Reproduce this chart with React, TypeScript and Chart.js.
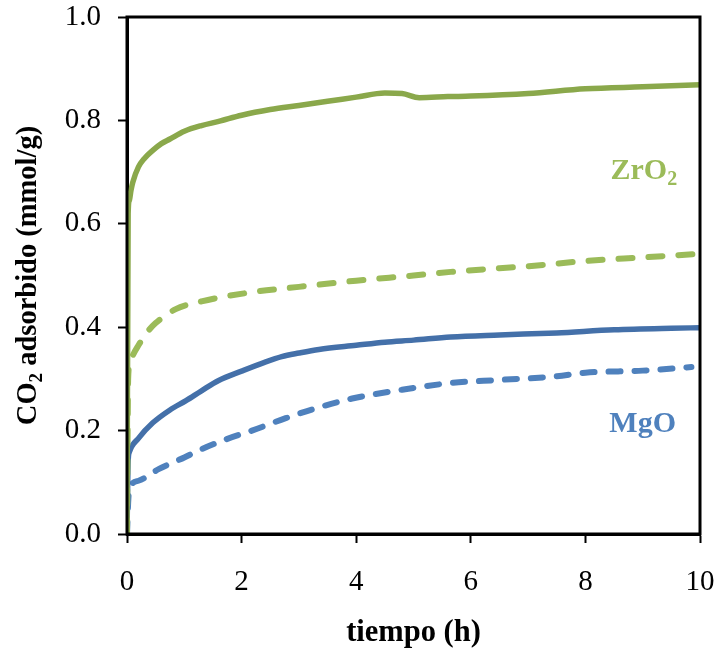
import React, { useEffect, useRef } from "react";
import { Chart, registerables } from "chart.js";

Chart.register(...registerables);

const FONT = '"Liberation Serif", "Times New Roman", serif';

// axis ticks
const xTicks = [0, 2, 4, 6, 8, 10];
const yTicks = [0, 0.2, 0.4, 0.6, 0.8, 1.0];

// ZrO2 — solid curve
const zro2SolidT = [0, 0.02, 0.04, 0.07, 0.1, 0.2, 0.3, 0.45, 0.6, 0.75, 1.0, 1.3, 1.6, 2.0, 2.5, 3.0, 3.5, 4.0, 4.5, 4.8, 5.1, 5.6, 6.0, 7.0, 8.0, 9.0, 10.0];
const zro2SolidQ = [0, 0.62, 0.645, 0.665, 0.68, 0.71, 0.726, 0.742, 0.755, 0.764, 0.779, 0.79, 0.798, 0.81, 0.821, 0.829, 0.837, 0.845, 0.853, 0.852, 0.844, 0.846, 0.847, 0.852, 0.861, 0.865, 0.869];

// ZrO2 — dashed curve
const zro2DashT = [0, 0.02, 0.05, 0.1, 0.2, 0.35, 0.5, 0.85, 1.3, 2.2, 3.0, 4.0, 5.0, 5.65, 6.5, 7.0, 8.0, 9.0, 10.0];
const zro2DashQ = [0, 0.3, 0.33, 0.345, 0.365, 0.39, 0.408, 0.435, 0.45, 0.468, 0.478, 0.49, 0.5, 0.507, 0.514, 0.518, 0.528, 0.535, 0.542];

// MgO — solid curve
const mgoSolidT = [0, 0.02, 0.04, 0.2, 0.45, 0.75, 1.03, 1.3, 1.6, 2.0, 2.4, 2.7, 3.0, 3.35, 4.0, 4.5, 5.0, 5.65, 6.5, 7.5, 8.5, 9.5, 10.0];
const mgoSolidQ = [0, 0.14, 0.158, 0.185, 0.215, 0.24, 0.258, 0.277, 0.297, 0.315, 0.332, 0.343, 0.35, 0.357, 0.365, 0.371, 0.375, 0.381, 0.385, 0.389, 0.395, 0.398, 0.399];

// MgO — dashed curve
const mgoDashT = [0, 0.02, 0.04, 0.2, 0.56, 1.0, 1.26, 1.7, 2.18, 2.77, 3.35, 3.93, 4.8, 5.65, 6.5, 7.5, 8.0, 9.0, 9.85];
const mgoDashQ = [0, 0.06, 0.087, 0.103, 0.126, 0.148, 0.162, 0.182, 0.2, 0.224, 0.245, 0.262, 0.279, 0.292, 0.298, 0.305, 0.312, 0.316, 0.323];

const toPts = (t: number[], q: number[]) => t.map((x, i) => ({ x, y: q[i] }));

const GREEN_SOLID = "#8AA84B";
const GREEN_DASH = "#9BBB59";
const BLUE_SOLID = "#4470A9";
const BLUE_DASH = "#4F81BD";

type Part = { text: string; sub?: boolean };

function drawRich(ctx: CanvasRenderingContext2D, parts: Part[], cx: number, cy: number, size: number, color: string) {
  const subSize = Math.round(size * 0.65);
  const mainFont = `bold ${size}px ${FONT}`;
  const subFont = `bold ${subSize}px ${FONT}`;
  let total = 0;
  const widths = parts.map((p) => {
    ctx.font = p.sub ? subFont : mainFont;
    const w = ctx.measureText(p.text).width;
    total += w;
    return w;
  });
  let x = cx - total / 2;
  const base = cy + size * 0.33;
  ctx.fillStyle = color;
  ctx.textAlign = "left";
  ctx.textBaseline = "alphabetic";
  parts.forEach((p, i) => {
    ctx.font = p.sub ? subFont : mainFont;
    ctx.fillText(p.text, x, p.sub ? base + size * 0.2 : base);
    x += widths[i];
  });
}

const decorPlugin = {
  id: "decor",
  afterDatasetsDraw(chart: any) {
    const { ctx, chartArea, scales } = chart;
    ctx.save();
    // frame
    ctx.strokeStyle = "#000";
    ctx.lineWidth = 3;
    ctx.strokeRect(chartArea.left, chartArea.top, chartArea.right - chartArea.left, chartArea.bottom - chartArea.top);
    // series labels
    const xs = scales.x;
    const ys = scales.y;
    drawRich(ctx, [{ text: "ZrO" }, { text: "2", sub: true }], xs.getPixelForValue(9.02), ys.getPixelForValue(0.705), 30, GREEN_DASH);
    drawRich(ctx, [{ text: "MgO" }], xs.getPixelForValue(9.0), ys.getPixelForValue(0.217), 30, BLUE_DASH);
    // y-axis title with subscript
    ctx.translate(27, (chartArea.top + chartArea.bottom) / 2);
    ctx.rotate(-Math.PI / 2);
    drawRich(ctx, [{ text: "CO" }, { text: "2", sub: true }, { text: " adsorbido (mmol/g)" }], 0, 0, 28.5, "#000");
    ctx.restore();
  },
};

export default function App() {
  const ref = useRef<HTMLCanvasElement>(null);
  useEffect(() => {
    const canvas = ref.current;
    if (!canvas) return;
    const chart = new Chart(canvas, {
      type: "line",
      data: {
        datasets: [
          {
            label: "ZrO2 solid",
            data: toPts(zro2SolidT, zro2SolidQ),
            borderColor: GREEN_SOLID,
            borderWidth: 5.5,
            order: 0,
          },
          {
            label: "ZrO2 dashed",
            data: toPts(zro2DashT, zro2DashQ),
            borderColor: GREEN_DASH,
            borderWidth: 6,
            borderDash: [14, 16],
            borderCapStyle: "round",
            order: 1,
          },
          {
            label: "MgO solid",
            data: toPts(mgoSolidT, mgoSolidQ),
            borderColor: BLUE_SOLID,
            borderWidth: 5.5,
            order: 2,
          },
          {
            label: "MgO dashed",
            data: toPts(mgoDashT, mgoDashQ),
            borderColor: BLUE_DASH,
            borderWidth: 6,
            borderDash: [12, 14],
            borderCapStyle: "round",
            order: 3,
          },
        ] as any,
      },
      options: {
        animation: false,
        responsive: false,
        maintainAspectRatio: false,
        layout: { padding: { top: 17, right: 21, left: 0, bottom: 0 } },
        plugins: { legend: { display: false }, tooltip: { enabled: false } },
        elements: {
          point: { radius: 0 },
          line: { cubicInterpolationMode: "monotone", fill: false },
        },
        scales: {
          x: {
            type: "linear",
            min: 0,
            max: 10,
            afterBuildTicks: (s: any) => {
              s.ticks = xTicks.map((v) => ({ value: v }));
            },
            ticks: {
              color: "#000",
              font: { family: FONT, size: 29 },
              padding: 22,
              maxRotation: 0,
              callback: (v: any) => String(v),
            },
            grid: { drawOnChartArea: false, drawTicks: true, tickLength: 9, color: "#000", tickWidth: 2 },
            border: { display: true, color: "#000", width: 3 },
            title: {
              display: true,
              text: "tiempo (h)",
              color: "#000",
              font: { family: FONT, size: 30.5, weight: "bold" },
              padding: { top: 0, bottom: 6 },
            },
            afterFit: (s: any) => {
              s.height = 123;
              s.paddingLeft = 0;
              s.paddingRight = 0;
            },
          },
          y: {
            type: "linear",
            min: 0,
            max: 1,
            afterBuildTicks: (s: any) => {
              s.ticks = yTicks.map((v) => ({ value: v }));
            },
            ticks: {
              color: "#000",
              font: { family: FONT, size: 29 },
              padding: 17,
              callback: (v: any) => Number(v).toFixed(1),
            },
            grid: { drawOnChartArea: false, drawTicks: true, tickLength: 9, color: "#000", tickWidth: 2 },
            border: { display: true, color: "#000", width: 3 },
            afterFit: (s: any) => {
              s.width = 127;
              s.paddingTop = 0;
              s.paddingBottom = 0;
            },
          },
        },
      } as any,
      plugins: [decorPlugin],
    });
    return () => chart.destroy();
  }, []);
  return (
    <div style={{ position: "fixed", left: 0, top: 0, width: 721, height: 657, background: "#fff" }}>
      <canvas ref={ref} width={721} height={657} style={{ display: "block" }} />
    </div>
  );
}
